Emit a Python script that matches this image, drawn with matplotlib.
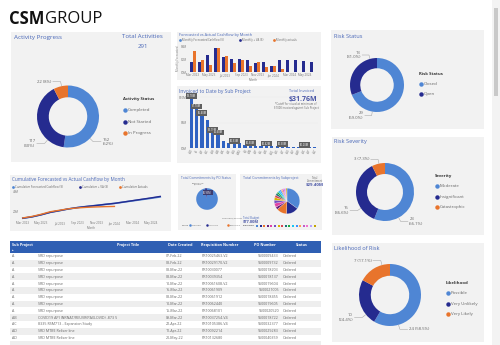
import numpy as np
import matplotlib.pyplot as plt
from matplotlib.patches import Rectangle
from matplotlib.lines import Line2D

plt.rcParams['font.family'] = ['Open Sans', 'DejaVu Sans']

W, H = 500, 345

LIGHT = '#4f86d4'
NAVY = '#252b8f'
ORANGE = '#e8742c'
BAR_BLUE = '#2f62c2'
TITLE = '#4a68b8'
PANEL = '#f2f2f2'
GREY = '#666666'

# --- donut data ---
activity_labels = ['Completed', 'Not Started', 'In Progress']
activity_counts = [152, 117, 22]

risk_status_labels = ['Closed', 'Open']
risk_status_counts = [29, 13]

severity_labels = ['Moderate', 'Insignificant', 'Catastrophic']
severity_counts = [23, 15, 3]

likelihood_labels = ['Possible', 'Very Unlikely', 'Very Likely']
likelihood_counts = [24, 10, 7]

# --- cashflow data ($M) ---
months = ['Mar 2023', 'Apr 2023', 'May 2023', 'Jun 2023', 'Jul 2023', 'Aug 2023',
          'Sep 2023', 'Oct 2023', 'Nov 2023', 'Dec 2023', 'Jan 2024', 'Feb 2024',
          'Mar 2024', 'Apr 2024', 'May 2024', 'Jun 2024']
monthly_va = [1.5, 1.5, 2.7, 3.7, 2.3, 2.0, 2.0, 1.9, 1.4, 1.6, 1.0, 1.9, 1.9, 1.9, 1.7, 1.6]
monthly_actual = [3.2, 1.9, 1.1, 3.7, 2.5, 1.4, 1.8, 0.9, 1.5, 0.8, 0.9, 0.4]
cum_forecast = [13.3, 14.7, 16.8, 19.3, 21.0, 22.8, 24.2, 25.3, 26.3, 27.4, 28.4, 29.7, 31.0, 32.3, 33.6, 35.0]
cum_va = [13.3, 14.7, 16.8, 19.3, 21.0, 22.8, 24.2, 25.3, 26.3, 27.4, 28.4, 29.8, 31.2, 32.6, 34.0, 35.5]
cum_actual = [13.6, 15.1, 17.3, 19.9, 21.4, 22.9, 23.8, 24.4, 24.8, 25.1, 25.3]

# --- invoiced by sub project ($M) ---
sub_projects = ['AD', 'A', 'AF', 'AC', 'AH', 'AB', 'AK', 'AE', 'AG', 'AM', 'AJ', 'AN',
                'AP', 'AL', 'AR', 'AQ', 'AS', 'AT', 'AU', 'AV', 'AW', 'AX', 'AY', 'AZ']
invoiced = [9.78, 7.70, 6.40, 5.55, 3.15, 2.60, 1.32, 0.95, 0.93, 0.90, 0.55, 0.50,
            0.46, 0.44, 0.42, 0.36, 0.33, 0.30, 0.28, 0.25, 0.22, 0.20, 0.18, 0.15]
label_bars = [0, 1, 2, 4, 5, 8, 11, 14, 17, 21]

# --- commitments ($M) ---
po_status = ['Ordered', 'Invoicing', 'Cancelled']
po_values = [30.18, 0.93, 0.03]
sub_commit = [10.3, 4.6, 3.8, 1.0, 1.5, 1.2, 1.0, 0.9, 0.8, 0.7, 0.7, 0.6, 0.5, 0.5, 0.5, 0.4, 0.4]
sub_colors = [LIGHT, NAVY, ORANGE, '#6b1f7b', '#e044a7', '#744ec2', '#d9b300', '#d64550',
              '#197278', '#1aab40', '#15c6f4', '#4092ff', '#ffa058', '#be5dc9', '#f472d0',
              '#b5a1ff', '#c4a200']

# --- table ---
tbl_sub = ['A', 'A', 'A', 'A', 'A', 'A', 'A', 'A', 'A', 'AB', 'AC', 'AD', 'AD']
tbl_title = ['SRD repurpose'] * 9 + ['COVID19 API INRNAT/REUVR(PAXLOVID) -873 5',
             '8335 RSM713 - Expansion Study', 'SRD MTBE Reliser line', 'SRD MTBE Reliser line']
tbl_date = ['07-Feb-22', '08-Feb-22', '08-Mar-22', '08-Mar-22', '10-Mar-22', '16-Mar-22',
            '08-Mar-22', '10-Mar-22', '15-Mar-22', '09-Mar-22', '22-Apr-22', '11-Apr-22',
            '20-May-22']
tbl_req = ['PR10025463-V2', 'PR10029170-V2', 'PR10030077', 'PR10039354', 'PR10061608-V2',
           'PR10061909', 'PR10061912', 'PR10062440', 'PR10068101', 'PR10037254-V4',
           'PR10105386-V4', 'PR10092214', 'PR10132680']
tbl_po = ['9500009433', '9500009732', '9500018203', '9500018137', '9500019604', '9500021005',
          '9500018455', '9500019605', '9500020520', '9500018722', '9500032377', '9500029283',
          '9500040359']
tbl_status = ['Ordered'] * 13

fig = plt.figure(figsize=(5, 3.45), dpi=100)
fig.patch.set_facecolor('white')


def fx(x):
    return x / W


def fy(y):
    return 1 - y / H


def rect(x, y, w, h, color):
    fig.add_artist(Rectangle((fx(x), fy(y + h)), w / W, h / H, transform=fig.transFigure,
                             facecolor=color, edgecolor='none', zorder=-1))


def txt(x, y, s, size=3, color=GREY, ha='left', va='center', **kw):
    return fig.text(fx(x), fy(y), s, fontsize=size, color=color, ha=ha, va=va, **kw)


def px_axes(x, y, w, h):
    ax = fig.add_axes([fx(x), fy(y + h), w / W, h / H])
    ax.set_facecolor('none')
    return ax


def dot(x, y, color, size=3.2, marker='o'):
    fig.add_artist(Line2D([fx(x)], [fy(y)], marker=marker, markersize=size, color=color,
                          markeredgewidth=0, linestyle='none', transform=fig.transFigure))


def legend_block(x, y, header, labels, colors, step):
    txt(x, y, header, size=3.1, color='#333333', fontweight='bold')
    for i, (lab, c) in enumerate(zip(labels, colors)):
        yy = y + step * (i + 1)
        dot(x + 2, yy, c)
        txt(x + 5, yy, lab, size=3.2)


def donut(cx, cy, r, values, colors, label_angles, two_line, decimals):
    ax = px_axes(cx - r, cy - r, 2 * r, 2 * r)
    ax.pie(values, colors=colors, startangle=90, counterclock=False,
           wedgeprops=dict(width=0.38, edgecolor='none'))
    ax.set_xlim(-1, 1)
    ax.set_ylim(-1, 1)
    ax.set_aspect('equal')
    total = sum(values)
    for v, a, two in zip(values, label_angles, two_line):
        t = np.deg2rad(90 - a)
        x0, y0 = np.cos(t), np.sin(t)
        side = 1 if x0 >= 0 else -1
        ex, ey = 1.15 * x0, 1.15 * y0
        hx = ex + side * 0.25
        ax.plot([1.01 * x0, ex, hx], [1.01 * y0, ey, ey], color='#aaaaaa', lw=0.4,
                clip_on=False)
        pct = f"{100 * v / total:.{decimals}f}%"
        s = f"{v}\n({pct})" if two else f"{v} ({pct})"
        ax.text(hx + side * 0.05, ey, s, fontsize=3.1, color=GREY,
                ha='left' if side > 0 else 'right', va='center', linespacing=1.1,
                clip_on=False)


def clean(ax):
    for s in ax.spines.values():
        s.set_visible(False)
    ax.tick_params(length=0, labelsize=2.2, labelcolor='#777777', pad=1)


# ---------- background panels ----------
rect(11, 32, 160, 130, PANEL)      # activity progress
rect(177, 32, 144, 48, PANEL)      # monthly cashflow
rect(177, 86, 144, 77, PANEL)      # invoiced
rect(10, 175, 161, 56, PANEL)      # cumulative
rect(178, 174, 58, 56, PANEL)      # PO status
rect(240, 174, 82, 56, PANEL)      # subproject
rect(331, 30, 153, 99, PANEL)      # risk status
rect(332, 137, 152, 98, PANEL)     # risk severity
rect(332, 243, 152, 99, PANEL)     # likelihood
rect(492, 0, 8, 345, '#f3f3f3')    # scrollbar track
rect(493.5, 8, 4, 88, '#c9c9c9')   # scrollbar thumb

# ---------- logo ----------
csm = txt(9, 19, 'CSM', size=12, color='#111111', fontweight='bold')
renderer = fig.canvas.get_renderer()
bb = csm.get_window_extent(renderer)
txt(bb.x1 + 0.5, 19, 'GROUP', size=12, color='#111111')

# ---------- activity progress ----------
txt(14, 37, 'Activity Progress', size=4.5, color=TITLE)
txt(142, 37, 'Total Activities', size=4.4, color=TITLE, ha='center')
txt(143, 47, f"{sum(activity_counts)}", size=4.4, color=TITLE, ha='center')
donut(68, 116.5, 31, activity_counts, [LIGHT, NAVY, ORANGE], [135, 221, 348],
      [True, True, False], 0)
legend_block(123, 99, 'Activity Status', activity_labels, [LIGHT, NAVY, ORANGE], 11.3)

# ---------- risk donuts ----------
txt(334, 36, 'Risk Status', size=4.1, color=TITLE)
donut(377, 85, 27, risk_status_counts, [LIGHT, NAVY], [190, 345], [True, True], 1)
legend_block(419, 74, 'Risk Status', risk_status_labels, [LIGHT, NAVY], 10)

txt(334, 142, 'Risk Severity', size=4.1, color=TITLE)
donut(385, 192, 29, severity_counts, [LIGHT, NAVY, ORANGE], [152, 236, 348],
      [True, True, False], 1)
legend_block(435, 176, 'Severity', severity_labels, [LIGHT, NAVY, ORANGE], 10.3)

txt(334, 249, 'Likelihood of Risk', size=4.1, color=TITLE)
donut(390, 295, 31, likelihood_counts, [LIGHT, NAVY, ORANGE], [164, 231, 345],
      [False, True, False], 1)
legend_block(446, 283, 'Likelihood', likelihood_labels, [LIGHT, NAVY, ORANGE], 10.3)

# ---------- monthly cashflow bars ----------
txt(179, 35, 'Forecasted vs Actual Cashflow by Month', size=2.8, color=TITLE)
leg_items = [('Monthly Forecasted Cashflow ($)', LIGHT), ('Monthly + VA ($)', NAVY),
             ('Monthly actuals', ORANGE)]
lx = 180
for lab, c in leg_items:
    dot(lx, 40, c, size=2)
    txt(lx + 2, 40, lab, size=2)
    lx += len(lab) * 1.75 + 6
ax = px_axes(188, 45, 130, 27)
xi = np.arange(len(months))
ax.bar(xi - 0.19, monthly_va, width=0.38, color=NAVY)
ax.bar(xi[:len(monthly_actual)] + 0.19, monthly_actual, width=0.38, color=ORANGE)
ax.set_xlim(-0.6, len(months) - 0.4)
ax.set_ylim(0, 4.2)
ax.set_yticks([0, 2, 4])
ax.set_yticklabels(['$0M', '$2M', '$4M'])
ax.set_xticks(xi[::2])
ax.set_xticklabels(months[::2])
ax.set_xlabel('Month', fontsize=2.2, color='#777777', labelpad=0.5)
ax.set_ylabel('Monthly Forecasted', fontsize=2, color='#777777', labelpad=0.5)
clean(ax)

# ---------- invoiced to date ----------
txt(179, 91, 'Invoiced to Date by Sub Project', size=3.6, color=TITLE)
txt(302, 91, 'Total Invoiced', size=2.8, color=TITLE, ha='center')
txt(303, 99, '$31.76M', size=5, color='#4a56a6', ha='center', fontweight='bold')
txt(296, 103.5, '*Cutoff for visual at minimum of', size=2, ha='center')
txt(296, 107.5, '$100K invoiced against Sub Project', size=2, ha='center')
ax = px_axes(188, 93, 130, 55)
bi = np.arange(len(invoiced))
ax.bar(bi, invoiced, width=0.62, color=BAR_BLUE)
for i in label_bars:
    ax.text(bi[i], invoiced[i] + 0.45, f"${invoiced[i]:.2f}M", fontsize=1.9, color='white',
            ha='center', va='center', clip_on=False,
            bbox=dict(boxstyle='square,pad=0.35', facecolor='#5f5f5f', edgecolor='none'))
ax.set_xlim(-0.6, len(invoiced) - 0.4)
ax.set_ylim(0, 10.8)
ax.set_yticks([0, 5, 10])
ax.set_yticklabels(['$0M', '$5M', '$10M'])
ax.yaxis.grid(True, color='#dddddd', lw=0.3, linestyle=':')
ax.set_axisbelow(True)
ax.set_xticks(bi)
ax.set_xticklabels(sub_projects, rotation=60)
clean(ax)

# ---------- cumulative cashflow ----------
txt(12, 179, 'Cumulative Forecasted vs Actual Cashflow by Month', size=3.3, color=TITLE)
leg_items = [('Cumulative Forecasted Cashflow ($)', LIGHT), ('Cumulative + VA ($)', NAVY),
             ('Cumulative Actuals', ORANGE)]
lx = 13
for lab, c in leg_items:
    dot(lx, 187, c, size=2)
    txt(lx + 2, 187, lab, size=2.1)
    lx += len(lab) * 1.8 + 6
ax = px_axes(20, 191, 143, 29)
ci = np.arange(len(months))
ax.plot(ci, cum_forecast, color=LIGHT, lw=1.2)
ax.plot(ci, cum_va, color=NAVY, lw=1.0)
ax.plot(ci[:len(cum_actual)], cum_actual, color=ORANGE, lw=1.0)
ax.set_xlim(-0.3, len(months) - 0.7)
ax.set_ylim(11.5, 41)
ax.set_yticks([20, 40])
ax.set_yticklabels(['20M', '40M'])
ax.set_xticks(ci[::2])
ax.set_xticklabels(months[::2])
ax.set_xlabel('Month', fontsize=2.2, color='#777777', labelpad=0.5)
clean(ax)

# ---------- commitments by PO status ----------
txt(181, 178, 'Total Commitments by PO Status', size=2.3, color=TITLE)
ax = px_axes(193.5, 185.5, 27, 27)
ax.pie(po_values, colors=[LIGHT, NAVY, ORANGE], startangle=90, counterclock=False,
       wedgeprops=dict(edgecolor='none'))
ax.set_aspect('equal')
ax.text(0.05, 0.6, f"${po_values[1]:.2f}M", fontsize=1.8, color='white', ha='center',
        va='center', bbox=dict(boxstyle='square,pad=0.3', facecolor='#3c3c6e', edgecolor='none'))
txt(198, 184, 'Completed\n$0.03M', size=1.7, ha='center', linespacing=1.0)
txt(222, 218, f"Ordered ${po_values[0]:.2f}M", size=1.7)
lx = 186
txt(lx - 4, 225, 'Status', size=1.7, color='#333333')
for lab, c in zip(po_status, [LIGHT, NAVY, ORANGE]):
    dot(lx + 4, 225, c, size=1.8)
    txt(lx + 6, 225, lab, size=1.7)
    lx += len(lab) * 1.6 + 6

# ---------- commitments by subproject ----------
txt(243, 178, 'Total Commitments by Subproject', size=2.5, color=TITLE)
ax = px_axes(271, 185, 32, 32)
ax.pie(sub_commit, colors=sub_colors, startangle=90, counterclock=False,
       wedgeprops=dict(edgecolor='white', linewidth=0.15))
ax.set_aspect('equal')
txt(315, 178, 'Total', size=1.9, ha='center')
txt(315, 181, 'Commitment', size=1.9, ha='center')
txt(315, 185.5, f"${sum(sub_commit):.2f}M", size=3.2, color='#4a56a6', ha='center',
    fontweight='bold')
txt(243, 218, 'Total Budget', size=2, color=TITLE)
txt(243, 222, '$77.00M', size=2.8, color='#4a56a6', fontweight='bold')
txt(243, 226, 'Subproject', size=1.7, color='#333333')
for i, c in enumerate(sub_colors):
    dot(257 + i * 3.6, 226, c, size=1.8, marker='s')

# ---------- table ----------
rect(10, 241, 311, 12, '#2f5fb3')
hdr = [('Sub Project', 12, 'left'), ('Project Title', 128, 'center'),
       ('Date Created', 180, 'center'), ('Requisition Number', 220, 'center'),
       ('PO Number', 265, 'center'), ('Status', 302, 'center')]
for lab, x, ha in hdr:
    txt(x, 245, lab, size=2.7, color='white', ha=ha, fontweight='bold')
txt(12, 249.8, '\u25b4', size=2.2, color='white')
row_h = 6.8
for i in range(len(tbl_sub)):
    y = 253 + i * row_h
    if i % 2 == 1:
        rect(10, y, 311, row_h, '#eeeeee')
    yc = y + row_h / 2
    txt(12, yc, tbl_sub[i], size=2.6)
    txt(38, yc, tbl_title[i], size=2.6)
    txt(166, yc, tbl_date[i], size=2.6)
    txt(202, yc, tbl_req[i], size=2.6)
    txt(279, yc, tbl_po[i], size=2.6, ha='right')
    txt(283, yc, tbl_status[i], size=2.6)
rect(10, 253 + len(tbl_sub) * row_h, 311, 4, '#eeeeee')

fig.savefig('out.png', dpi=100, facecolor='white')
